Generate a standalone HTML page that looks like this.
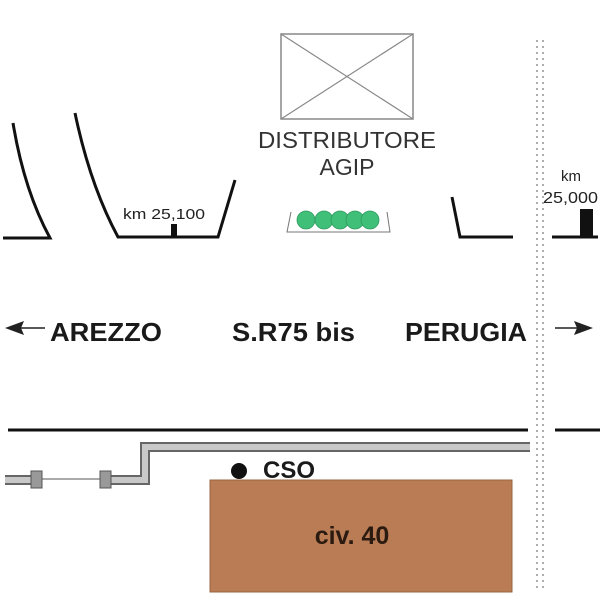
<!DOCTYPE html>
<html><head><style>html,body{margin:0;padding:0;background:#fff}svg{display:block}</style></head>
<body>
<svg width="600" height="600" viewBox="0 0 600 600" xmlns="http://www.w3.org/2000/svg" font-family="Liberation Sans, sans-serif">
<line x1="537" y1="40" x2="537" y2="592" stroke="#777" stroke-width="1.2" stroke-dasharray="2,4"/>
<line x1="543" y1="40" x2="543" y2="592" stroke="#777" stroke-width="1.2" stroke-dasharray="2,4"/>
<rect x="281" y="34" width="132" height="85" fill="none" stroke="#888" stroke-width="1.5"/>
<line x1="281" y1="34" x2="413" y2="119" stroke="#888" stroke-width="1.2"/>
<line x1="413" y1="34" x2="281" y2="119" stroke="#888" stroke-width="1.2"/>
<text x="258" y="148" font-size="23" textLength="178" lengthAdjust="spacingAndGlyphs" fill="#333">DISTRIBUTORE</text>
<text x="347" y="175" font-size="23" text-anchor="middle" fill="#333">AGIP</text>
<g fill="none" stroke="#111" stroke-width="3">
<path d="M13,123 Q24,190 50,238 L3,238"/>
<path d="M75,113 Q90,185 118,237 L218,237 L235,180"/>
<path d="M452,197 L460,237 L513,237"/>
<path d="M552,237 L598,237"/>
<line x1="8" y1="430" x2="528" y2="430"/>
<line x1="555" y1="430" x2="600" y2="430"/>
</g>
<rect x="171" y="224" width="6" height="13" fill="#111"/>
<rect x="580" y="209" width="13" height="28" fill="#111"/>
<text x="123" y="219" font-size="15" textLength="82" lengthAdjust="spacingAndGlyphs" fill="#222">km 25,100</text>
<text x="571" y="181" font-size="15" text-anchor="middle" fill="#222">km</text>
<text x="543" y="203" font-size="16" textLength="55" lengthAdjust="spacingAndGlyphs" fill="#222">25,000</text>
<path d="M291,212 L287,232 L390,232 L387,212" fill="none" stroke="#777" stroke-width="1"/>
<g fill="#3fbf78" stroke="#2e9a5e" stroke-width="0.8">
<circle cx="306" cy="220" r="9"/><circle cx="324" cy="220" r="9"/><circle cx="340" cy="220" r="9"/><circle cx="355" cy="220" r="9"/><circle cx="370" cy="220" r="9"/>
</g>
<g font-weight="bold" font-size="26" fill="#1a1a1a">
<text x="50" y="341" textLength="112" lengthAdjust="spacingAndGlyphs">AREZZO</text>
<text x="232" y="341" textLength="123" lengthAdjust="spacingAndGlyphs">S.R75 bis</text>
<text x="405" y="341" textLength="122" lengthAdjust="spacingAndGlyphs">PERUGIA</text>
</g>
<line x1="18" y1="328" x2="45" y2="328" stroke="#222" stroke-width="1.5"/>
<polygon points="5,328 24,321 21,328 24,335" fill="#222"/>
<line x1="555" y1="328" x2="580" y2="328" stroke="#222" stroke-width="1.5"/>
<polygon points="593,328 574,321 577,328 574,335" fill="#222"/>
<path d="M5,480 L31,480 M111,480 L145,480 L145,447 L530,447" fill="none" stroke="#666" stroke-width="10"/>
<path d="M5,480 L31,480 M111,480 L145,480 L145,447 L530,447" fill="none" stroke="#c8c8c8" stroke-width="6"/>
<line x1="42" y1="479" x2="100" y2="479" stroke="#777" stroke-width="1.2"/>
<rect x="31" y="471" width="11" height="17" fill="#999" stroke="#555"/>
<rect x="100" y="471" width="11" height="17" fill="#999" stroke="#555"/>
<rect x="210" y="480" width="302" height="112" fill="#b97c55" stroke="#9a6540"/>
<circle cx="239" cy="471" r="8" fill="#111"/>
<text x="263" y="478" font-weight="bold" font-size="24" fill="#1a1a1a">CSO</text>
<text x="352" y="544" font-weight="bold" font-size="25" fill="#2a1a10" text-anchor="middle">civ. 40</text>
</svg>
</body></html>
